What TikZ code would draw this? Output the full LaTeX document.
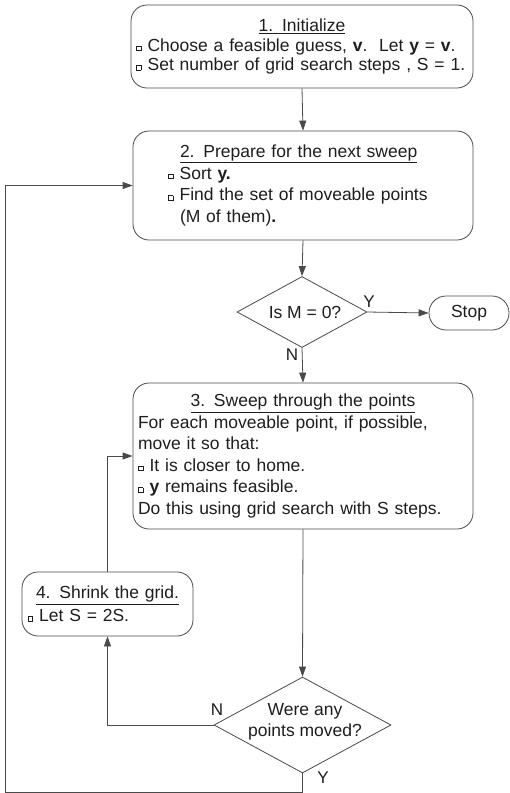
\documentclass[tikz,border=0pt]{standalone}
\usepackage{fontspec}
\setmainfont{Liberation Sans}
\usetikzlibrary{arrows.meta,shapes.geometric,shapes.misc}
\definecolor{linec}{HTML}{4A4A4A}
\definecolor{txtc}{HTML}{1E1E1E}
\newcommand{\bul}{\raisebox{1pt}{\setlength{\fboxsep}{0pt}\setlength{\fboxrule}{0.5pt}\fbox{\rule{0pt}{4pt}\rule{4pt}{0pt}}\hspace{-0.2pt}\rule[-0.8pt]{0.8pt}{4.5pt}}\hspace{6pt}}
\begin{document}
\begin{tikzpicture}[x=1pt,y=-1pt,
  box/.style={draw=linec, rounded corners=16pt, line width=0.8pt, fill=white, inner sep=0pt, text=txtc, align=left},
  dia/.style={draw=linec, diamond, line width=0.8pt, inner sep=0pt, fill=white},
  conn/.style={draw=linec, line width=0.8pt, -{Triangle[length=10pt,width=7pt]}},
  lab/.style={font=\fontsize{17}{19}\selectfont, inner sep=0pt, text=txtc},
  txt/.style={inner sep=0pt, text=txtc, align=center, font=\fontsize{17.5}{21.5}\selectfont}]
\useasboundingbox (0,0) rectangle (510,793);

% boxes
\node[box, minimum width=342pt, minimum height=83pt, text width=332pt,
  font=\fontsize{17.5}{19.5}\selectfont] (b1) at (302,46.5)
  {\makebox[332pt]{\underline{1. Initialize}}\\
   \bul Choose a feasible guess, \textbf{v}.\ \ Let \textbf{y} = \textbf{v}.\\
   \bul Set number of grid search steps , S = 1.};

\node[box, minimum width=340pt, minimum height=109pt, text width=270pt,
  font=\fontsize{17.5}{21.7}\selectfont] (b2) at (303,185.5)
  {\hspace*{12pt}\underline{2. Prepare for the next sweep}\\
   \bul Sort \textbf{y.}\\
   \bul Find the set of moveable points\\
   \hspace*{12pt}(M of them)\textbf{.}};

\node[box, minimum width=340pt, minimum height=146pt, text width=330pt,
  font=\fontsize{17.5}{21.5}\selectfont] (b3) at (303,456)
  {\makebox[330pt]{\underline{3. Sweep through the points}}\\
   For each moveable point, if possible,\\
   move it so that:\\
   \bul It is closer to home.\\
   \bul \textbf{y} remains feasible.\\
   Do this using grid search with S steps.};

\node[box, minimum width=171pt, minimum height=64pt, text width=160pt,
  font=\fontsize{17.5}{23}\selectfont] (b4) at (107.5,604)
  {\makebox[160pt]{\underline{4. Shrink the grid.}}\\
   \bul Let S = 2S.};

% decisions
\node[dia, minimum width=130pt, minimum height=71pt] (d1) at (302,312) {};
\node[txt] (d1t) at (305,312) {Is M = 0?};
\node[dia, minimum width=177pt, minimum height=96pt] (d2) at (302.5,725) {};
\node[txt] (d2t) at (305,722) {Were any\\points moved?};

\node[draw=linec, line width=0.8pt, rounded rectangle, minimum width=80pt, minimum height=34pt,
  inner sep=0pt, text=txtc, font=\fontsize{17.5}{21}\selectfont] (stop) at (469,313) {Stop};

% connectors
\draw[conn] (b1.south) -- (b2.north);
\draw[conn] (b2.south) -- (d1.north);
\draw[conn] (d1.east) -- (stop.west);
\draw[conn] (d1.south) -- (b3.north);
\draw[conn] (b3.south) -- (d2.north);
\draw[conn] (d2.west) -| (b4.south);
\draw[conn] (b4.north) |- (b3.west);
\coordinate (c1) at (5,792);
\draw[conn] (d2.south) |- (c1) |- (b2.west);

% labels
\node[lab] (ly1) at (369,302) {Y};
\node[lab] (ln1) at (292,355) {N};
\node[lab] (ln2) at (217,710) {N};
\node[lab] (ly2) at (323,778) {Y};
\end{tikzpicture}
\end{document}
